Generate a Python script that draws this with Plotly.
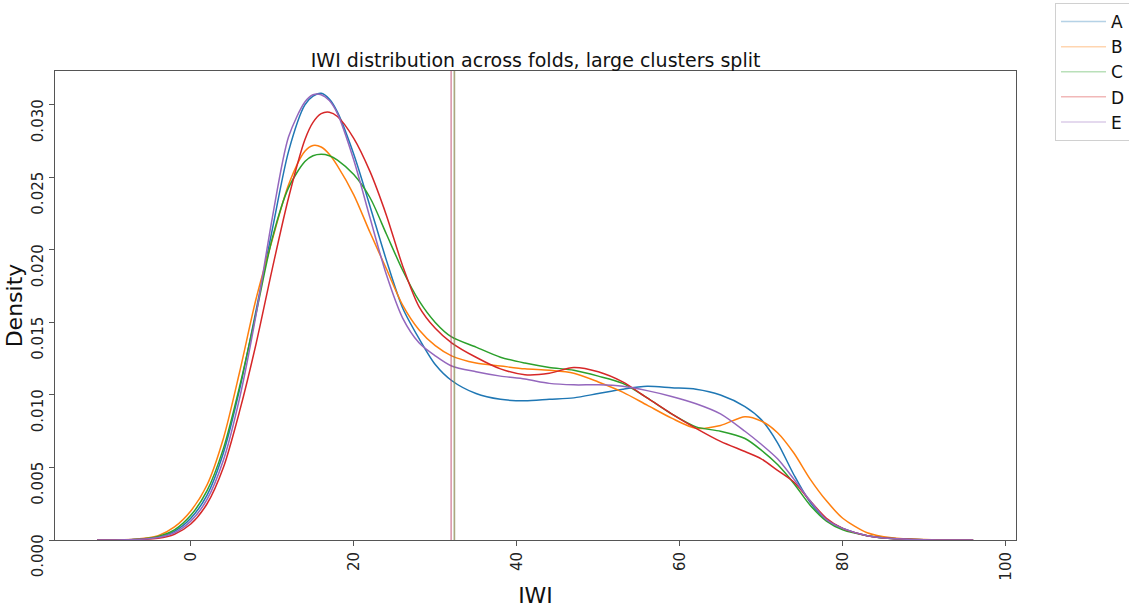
import plotly.graph_objects as go

# ---------------- data ----------------
IWI = [-11.5, -7, -4, -2, 0, 2, 4, 6, 8, 10, 12, 14, 15, 16, 17, 18, 20, 22, 24, 26,
       28, 30, 32, 35, 38, 41, 44, 47, 50, 53, 56, 59, 62, 65, 68, 70, 72, 74, 76, 78,
       80, 83, 86, 90, 96]

density_A = [0.0, 0.00003, 0.0002, 0.0006, 0.0015, 0.0031, 0.0060, 0.0104, 0.0158, 0.0214,
             0.0268, 0.0300, 0.0306, 0.0308, 0.0304, 0.0295, 0.0266, 0.0230, 0.0193, 0.0160,
             0.0139, 0.0121, 0.0110, 0.0101, 0.0097, 0.0096, 0.0097, 0.0098, 0.0101, 0.0104,
             0.0106, 0.0105, 0.0104, 0.0100, 0.0092, 0.0083, 0.0067, 0.0045, 0.0026, 0.0014,
             0.0008, 0.0003, 0.0001, 0.00002, 0.0]
density_B = [0.0, 0.00005, 0.0003, 0.0009, 0.0020, 0.0038, 0.0070, 0.0116, 0.0166, 0.0207,
             0.0245, 0.0268, 0.0272, 0.0271, 0.0266, 0.0258, 0.0238, 0.0212, 0.0187, 0.0162,
             0.0145, 0.0134, 0.0127, 0.0122, 0.0120, 0.0118, 0.0117, 0.0115, 0.0109, 0.0102,
             0.0093, 0.0084, 0.0077, 0.0079, 0.0085, 0.0082, 0.0074, 0.0060, 0.0042, 0.0027,
             0.0015, 0.0005, 0.00015, 0.00003, 0.0]
density_C = [0.0, 0.00004, 0.00025, 0.0007, 0.0017, 0.0034, 0.0063, 0.0106, 0.0156, 0.0208,
             0.0243, 0.0261, 0.0265, 0.0266, 0.0265, 0.0262, 0.0252, 0.0236, 0.0211, 0.0186,
             0.0165, 0.0150, 0.0140, 0.0133, 0.0126, 0.0122, 0.0119, 0.0117, 0.0113, 0.0108,
             0.0098, 0.0087, 0.0078, 0.0075, 0.0070, 0.0062, 0.0052, 0.0039, 0.0024, 0.0013,
             0.0007, 0.0003, 0.0001, 0.00002, 0.0]
density_D = [0.0, 0.00002, 0.00012, 0.0004, 0.0011, 0.0025, 0.0050, 0.0089, 0.0135, 0.0187,
             0.0236, 0.0276, 0.0288, 0.0294, 0.0295, 0.0292, 0.0277, 0.0254, 0.0224, 0.0189,
             0.0161, 0.0146, 0.0136, 0.0126, 0.0118, 0.0114, 0.0115, 0.0119, 0.0116, 0.0109,
             0.0098, 0.0087, 0.0077, 0.0068, 0.0061, 0.0056, 0.0048, 0.0040, 0.0027, 0.0015,
             0.0008, 0.0003, 0.0001, 0.00002, 0.0]
density_E = [0.0, 0.00003, 0.00018, 0.0005, 0.0013, 0.0028, 0.0055, 0.0098, 0.0155, 0.0222,
             0.0278, 0.0302, 0.0307, 0.0307, 0.0303, 0.0294, 0.0262, 0.0222, 0.0183, 0.0153,
             0.0136, 0.0127, 0.0120, 0.0116, 0.0113, 0.0111, 0.0108, 0.0107, 0.0107, 0.0106,
             0.0103, 0.0099, 0.0094, 0.0087, 0.0075, 0.0066, 0.0056, 0.0042, 0.0027, 0.0014,
             0.0008, 0.0003, 0.0001, 0.00002, 0.0]

folds = ["A", "B", "C", "D", "E"]
fold_means = [32.35, 32.35, 32.35, 31.95, 31.95]
colors = ["#1f77b4", "#ff7f0e", "#2ca02c", "#d62728", "#9467bd"]
mean_draw_order = [4, 3, 2, 0, 1]   # E, D, C, A, B (legend still lists A..E)

x_tick_vals = [0, 20, 40, 60, 80, 100]
x_tick_text = ["0", "20", "40", "60", "80", "100"]
y_tick_vals = [0.0, 0.005, 0.010, 0.015, 0.020, 0.025, 0.030]
y_tick_text = ["0.000", "0.005", "0.010", "0.015", "0.020", "0.025", "0.030"]

x_range = [-16.66, 101.26]
y_range = [0.0, 0.03234]

# ---------------- figure ----------------
FONT = "DejaVu Sans"
fig = go.Figure()

series = [density_A, density_B, density_C, density_D, density_E]
for name, ys, c in zip(folds, series, colors):
    fig.add_trace(go.Scatter(
        x=IWI, y=ys, mode="lines", name=name, showlegend=False,
        line=dict(color=c, width=1.5, shape="spline", smoothing=0.8),
        hoverinfo="skip"))

for i in mean_draw_order:
    m = fold_means[i]
    fig.add_trace(go.Scatter(
        x=[m, m], y=y_range, mode="lines", name=folds[i], opacity=0.33,
        legendrank=1000 + i,
        line=dict(color=colors[i], width=1.5), showlegend=True, hoverinfo="skip"))

axis_common = dict(
    showline=True, mirror=True, linecolor="#555", linewidth=1,
    showgrid=False, zeroline=False, automargin=False,
    ticks="outside", ticklen=5, tickwidth=1, tickcolor="#555",
    tickfont=dict(family=FONT, size=15, color="#222"),
    tickangle=-90,
)

fig.update_layout(
    width=1129, height=608,
    margin=dict(l=55, r=113, t=71, b=68, autoexpand=False),
    paper_bgcolor="white", plot_bgcolor="white",
    font=dict(family=FONT, color="#111"),
    title=dict(text="IWI distribution across folds, large clusters split",
               x=0.4744, xanchor="center", y=1 - 60 / 608, yanchor="middle",
               yref="container", font=dict(family=FONT, size=19, color="#111")),
    xaxis=dict(range=x_range, tickvals=x_tick_vals, ticktext=x_tick_text,
               title=dict(text="IWI", font=dict(family=FONT, size=22, color="#111"),
                          standoff=8),
               **axis_common),
    yaxis=dict(range=y_range, tickvals=y_tick_vals, ticktext=y_tick_text,
               ticklabelshift=18,
               title=dict(text="Density", font=dict(family=FONT, size=22, color="#111"),
                          standoff=0),
               **axis_common),
    legend=dict(x=1.0406, xanchor="left", y=1.1407 + 2 / 469, yanchor="top",
                bordercolor="#d0d0d0", borderwidth=1, bgcolor="white",
                font=dict(family=FONT, size=17, color="#111"),
                itemwidth=45, tracegroupgap=0, traceorder="normal"),
    showlegend=True,
)

fig.write_html("out.html")
